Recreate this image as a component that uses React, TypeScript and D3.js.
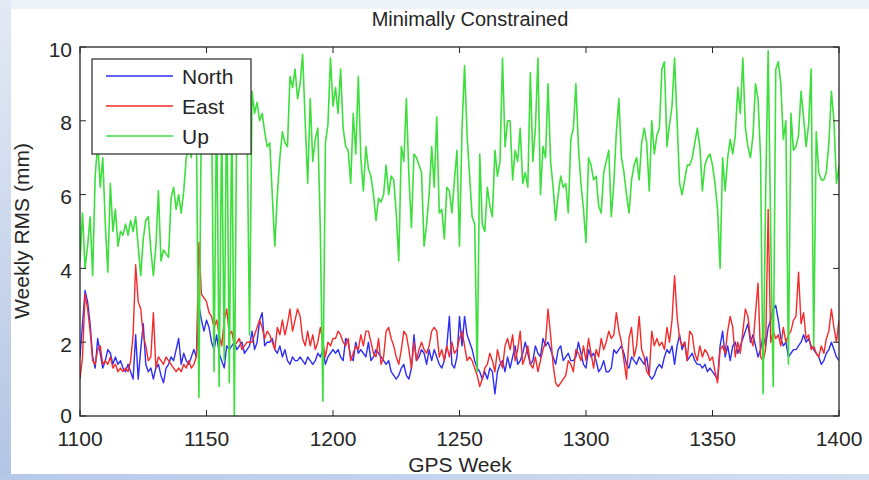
import React from 'react';
import * as d3 from 'd3';

const startWeek = 1100;

// weekly RMS (mm), weeks 1100..1400
const north = [
  1.6, 2.5, 3.4, 3.1, 2.5, 1.6, 1.3, 2.1, 1.7, 1.3,
  1.5, 1.8, 1.7, 1.4, 1.6, 1.4, 1.5, 1.3, 1.2, 1.4,
  1.2, 1.0, 2.2, 1.0, 1.8, 2.5, 1.4, 1.2, 1.3, 1.0,
  1.3, 1.4, 1.1, 0.9, 1.3, 1.4, 1.6, 1.5, 1.8, 2.1,
  1.4, 1.7, 1.5, 1.4, 1.6, 1.8, 1.6, 3.0, 2.6, 2.3,
  2.6, 2.4, 2.0, 1.8, 2.2, 1.7, 1.5, 1.3, 1.9, 1.8,
  1.9, 2.0, 1.8, 1.9, 2.0, 1.7, 1.8, 1.9, 2.3, 1.8,
  2.0, 2.6, 2.8, 1.9, 2.0, 2.0, 2.1, 1.8, 1.7, 1.9,
  1.6, 1.8, 1.5, 1.4, 1.6, 1.5, 1.5, 1.6, 1.5, 1.4,
  1.6, 1.5, 1.4, 1.5, 1.7, 1.6, 1.8, 1.4, 1.6, 1.7,
  1.8, 1.7, 1.8, 1.6, 1.5, 2.1, 2.0, 1.6, 1.5, 2.0,
  1.7, 1.8, 1.7, 1.6, 2.0, 1.5, 1.6, 1.8, 1.7, 1.6,
  1.5, 1.4, 1.5, 1.2, 1.1, 1.0, 1.1, 1.3, 1.4, 1.1,
  1.0, 1.3, 2.2, 1.5, 1.6, 1.8, 1.7, 1.4, 1.8, 1.5,
  1.8, 1.6, 1.4, 1.3, 1.5, 1.9, 2.7, 1.4, 1.3, 1.6,
  2.7, 1.9, 2.7, 2.2, 2.0, 1.8, 1.5, 1.3, 1.2, 1.0,
  1.2, 1.0, 1.3, 1.2, 0.6, 1.2, 1.4, 1.5, 1.2, 1.6,
  1.3, 1.6, 1.9, 1.4, 1.5, 1.7, 2.0, 1.7, 1.4, 1.5,
  1.9, 1.7, 1.6, 2.1, 1.9, 2.0, 1.8, 1.6, 1.4, 1.8,
  1.9, 1.5, 1.6, 1.7, 1.5, 1.5, 1.6, 2.0, 1.7, 1.4,
  1.3, 1.8, 1.6, 1.7, 1.5, 1.2, 1.3, 1.5, 1.2, 1.2,
  1.3, 1.8, 1.7, 1.8, 1.9, 1.7, 1.4, 1.3, 1.6, 1.5,
  1.4, 1.6, 1.5, 1.4, 1.6, 1.1, 1.0, 1.1, 1.3, 1.4,
  1.3, 1.6, 1.8, 1.7, 1.9, 1.4, 1.9, 2.2, 1.8, 2.0,
  1.5, 1.6, 1.7, 1.5, 1.4, 1.4, 1.3, 1.4, 1.2, 1.3,
  1.2, 1.1, 1.0, 1.9, 2.3, 1.6, 1.9, 1.5, 1.9, 2.0,
  1.7, 1.9, 2.1, 2.3, 2.5, 2.0, 2.2, 1.9, 1.6, 1.8,
  2.2, 1.9, 2.4, 2.6, 2.9, 3.0, 2.6, 2.1, 1.9, 2.0,
  1.6, 1.7, 1.8, 1.8, 1.9, 2.0, 2.2, 2.0, 2.1, 1.9,
  1.8, 1.7, 1.6, 1.4, 1.5, 1.7, 1.8, 2.0, 1.8, 1.6,
  1.5,
];

const east = [
  1.0, 1.6, 3.3, 2.9, 2.3, 1.5, 1.4, 1.8, 1.9, 1.4,
  1.5, 1.4, 1.6, 1.3, 1.4, 1.2, 1.3, 1.2, 1.3, 1.2,
  1.5, 2.2, 4.1, 3.1, 2.9, 2.2, 1.9, 1.5, 1.6, 2.8,
  1.3, 1.6, 1.5, 1.4, 1.6, 1.5, 1.4, 1.3, 1.2, 1.3,
  1.2, 1.4, 1.3, 1.5, 1.3, 1.4, 1.6, 4.7, 3.3, 3.2,
  3.1, 2.8, 2.7, 2.4, 2.6, 2.2, 1.9, 2.6, 2.9, 2.2,
  2.3, 1.9, 2.0, 2.1, 1.8, 1.9, 2.0, 2.0, 2.0, 2.2,
  2.4, 2.6, 2.4, 2.1, 2.3, 2.2, 2.0, 1.8, 2.4, 2.2,
  2.6, 2.2, 2.5, 2.9, 2.3, 2.6, 2.9, 2.7, 2.1, 1.9,
  2.3, 1.9, 2.2, 1.8, 2.0, 2.4, 2.0, 1.6, 2.0, 1.9,
  2.1, 2.1, 2.3, 2.2, 2.0, 1.9, 2.1, 1.5, 1.7, 1.9,
  1.8, 2.2, 1.9, 2.3, 2.3, 2.0, 1.7, 1.6, 2.1, 1.4,
  1.6, 2.3, 2.4, 2.1, 1.9, 1.6, 1.4, 1.8, 2.3, 2.2,
  1.8, 1.3, 2.0, 1.5, 1.8, 2.0, 1.8, 1.7, 1.9, 2.3,
  2.4, 2.3, 1.6, 1.8, 1.5, 1.9, 1.6, 2.0, 1.7, 1.8,
  2.1, 2.3, 1.9, 1.5, 1.6, 1.5, 1.3, 1.1, 0.8, 1.0,
  1.3, 1.4, 1.7, 1.5, 1.2, 1.8, 1.5, 1.3, 1.9, 2.1,
  1.8, 2.2, 1.5, 1.8, 2.3, 1.4, 1.6, 1.9, 1.4, 1.3,
  1.6, 1.2, 1.5, 1.8, 2.0, 2.9, 2.2, 1.4, 0.9, 0.8,
  0.9, 1.0, 1.1, 1.5, 1.4, 1.2, 1.8, 1.7, 1.5, 1.9,
  1.5, 2.1, 1.7, 1.3, 1.8, 1.6, 2.1, 1.8, 2.0, 2.3,
  2.1, 2.2, 2.8, 2.3, 2.0, 1.5, 1.0, 2.1, 2.4, 1.6,
  1.9, 2.7, 1.8, 1.6, 1.2, 1.1, 2.3, 1.9, 2.1, 1.9,
  2.0, 1.8, 2.4, 2.0, 2.6, 3.8, 2.7, 2.1, 1.9, 2.0,
  1.5, 2.3, 2.2, 1.7, 1.5, 1.9, 1.6, 1.8, 1.7, 1.5,
  1.6, 1.2, 0.9, 1.8, 1.9, 1.7, 2.3, 2.7, 2.4, 1.6,
  2.0, 1.7, 2.3, 2.9, 2.7, 2.1, 1.9, 2.8, 3.6, 1.6,
  1.5, 1.8, 5.6, 2.0, 2.3, 2.1, 2.2, 1.9, 2.4, 2.0,
  2.2, 2.3, 2.6, 2.7, 3.9, 2.5, 2.8, 2.1, 2.2, 1.8,
  1.9, 1.7, 1.6, 1.9, 1.7, 2.1, 2.3, 2.9, 2.4, 2.0,
  2.6,
];

const up = [
  4.2, 5.5, 4.0, 4.6, 5.4, 3.8, 6.5, 7.4, 6.2, 7.0,
  5.2, 3.9, 6.3, 5.0, 5.6, 4.6, 5.0, 4.9, 5.2, 4.9,
  5.3, 5.0, 5.4, 4.6, 3.8, 4.8, 5.3, 5.4, 4.5, 3.8,
  4.6, 6.1, 4.2, 4.5, 4.4, 4.3, 5.9, 6.2, 5.6, 6.0,
  5.5, 6.1, 7.0, 7.3, 7.0, 8.2, 7.8, 0.5, 8.6, 9.0,
  8.2, 7.6, 8.4, 1.2, 8.8, 0.8, 8.0, 1.5, 9.1, 0.9,
  8.3, 0.0, 8.7, 7.8, 8.9, 7.2, 8.1, 2.2, 8.8, 8.2,
  8.5, 8.0, 8.2, 7.7, 7.3, 7.4, 6.0, 4.6, 6.0, 7.0,
  7.7, 7.4, 7.3, 9.2, 8.9, 9.4, 8.6, 9.0, 9.8, 8.0,
  6.3, 8.6, 6.9, 7.5, 7.8, 5.0, 0.4, 7.4, 7.9, 9.7,
  8.4, 8.9, 8.2, 9.4, 7.8, 7.3, 7.2, 6.3, 8.2, 7.1,
  9.2, 7.0, 6.1, 7.3, 6.7, 6.5, 6.0, 5.3, 5.9, 5.8,
  6.0, 6.8, 6.0, 6.5, 6.4, 5.5, 4.2, 7.3, 6.9, 8.6,
  6.5, 5.1, 7.1, 7.0, 6.8, 6.6, 4.6, 5.2, 6.0, 7.3,
  6.2, 8.1, 5.5, 5.6, 4.8, 6.2, 6.1, 5.5, 6.4, 7.2,
  4.6, 7.8, 9.5, 7.6, 6.5, 5.4, 5.2, 1.2, 7.1, 5.2,
  5.0, 6.2, 5.7, 5.4, 7.2, 6.5, 6.9, 9.7, 7.3, 8.0,
  8.0, 6.4, 7.2, 6.9, 7.8, 6.3, 6.6, 6.2, 9.3, 6.9,
  7.8, 9.7, 6.0, 7.3, 7.0, 9.0, 6.9, 6.2, 5.3, 6.0,
  6.5, 6.2, 6.3, 5.5, 7.5, 7.8, 9.0, 7.3, 6.3, 5.6,
  4.7, 7.0, 6.8, 6.4, 6.5, 5.7, 5.5, 6.6, 6.9, 7.2,
  5.4, 6.3, 7.7, 8.6, 7.0, 6.6, 6.0, 5.5, 6.4, 6.8,
  7.0, 6.4, 7.4, 7.8, 7.4, 6.1, 8.0, 7.1, 7.6, 7.8,
  9.4, 9.6, 7.3, 7.9, 8.4, 9.7, 8.0, 6.3, 6.0, 6.4,
  6.8, 6.8, 7.0, 7.4, 7.8, 7.3, 6.1, 6.8, 7.0, 7.1,
  6.8, 6.3, 5.6, 4.0, 7.0, 6.1, 7.0, 7.5, 7.1, 7.6,
  8.9, 8.2, 9.7, 7.8, 7.3, 7.0, 7.6, 9.0, 8.6, 7.0,
  0.6, 6.0, 9.9, 5.0, 0.8, 9.4, 9.6, 9.0, 7.5, 8.0,
  1.4, 8.2, 7.2, 7.3, 7.6, 8.8, 8.1, 7.3, 7.9, 9.4,
  1.9, 7.7, 6.6, 6.4, 6.4, 6.6, 7.4, 8.8, 8.0, 6.3,
  6.8,
];

const seriesNames = ['North', 'East', 'Up'];
const seriesColors = ['#2e2ef5', '#f52a2a', '#3ddf3d'];
const xTicks = [1100, 1150, 1200, 1250, 1300, 1350, 1400];
const yTicks = [0, 2, 4, 6, 8, 10];

const W = 869;
const H = 480;
const plot = { left: 80, right: 839, top: 47, bottom: 416 };
const font = '"Liberation Sans", Arial, Helvetica, sans-serif';
const ink = '#262626';

export default function App() {
  const x = d3.scaleLinear().domain([1100, 1400]).range([plot.left, plot.right]);
  const y = d3.scaleLinear().domain([0, 10]).range([plot.bottom, plot.top]);

  const line = d3.line<number>()
    .x((_, i) => x(startWeek + i))
    .y(d => y(d));

  const series = [north, east, up];
  const tickLen = 6;

  return (
    <svg width={W} height={H} style={{ position: 'absolute', left: 0, top: 0 }}>
      <defs>
        <linearGradient id="leftEdge" x1="0" y1="0" x2="0" y2="1">
          <stop offset="0" stopColor="#e4eaf5" />
          <stop offset="1" stopColor="#b3c5e4" />
        </linearGradient>
        <linearGradient id="bottomBand" x1="0" y1="0" x2="1" y2="0">
          <stop offset="0" stopColor="#b6c9e8" />
          <stop offset="1" stopColor="#d2def2" />
        </linearGradient>
        <clipPath id="plotClip">
          <rect x={plot.left} y={plot.top - 2} width={plot.right - plot.left} height={plot.bottom - plot.top + 4} />
        </clipPath>
      </defs>

      <rect x={0} y={0} width={W} height={H} fill="#eef2f9" />
      <rect x={0} y={0} width={11} height={H} fill="url(#leftEdge)" />
      <rect x={0} y={474} width={W} height={H - 474} fill="url(#bottomBand)" />
      <rect x={11} y={9} width={W - 11} height={465} fill="#ffffff" />

      <g clipPath="url(#plotClip)">
        {series.map((s, i) => (
          <path key={seriesNames[i]} d={line(s) || ''} fill="none"
            stroke={seriesColors[i]} strokeWidth={i === 2 ? 1.6 : 1.4} strokeLinejoin="round" />
        ))}
      </g>

      <rect x={plot.left} y={plot.top} width={plot.right - plot.left} height={plot.bottom - plot.top}
        fill="none" stroke={ink} strokeWidth={1.3} />

      {xTicks.map(t => (
        <g key={'x' + t}>
          <line x1={x(t)} x2={x(t)} y1={plot.bottom} y2={plot.bottom - tickLen} stroke={ink} />
          <line x1={x(t)} x2={x(t)} y1={plot.top} y2={plot.top + tickLen} stroke={ink} />
          <text x={x(t)} y={plot.bottom + 30} textAnchor="middle" fontFamily={font} fontSize={21} fill={ink}>{t}</text>
        </g>
      ))}
      {yTicks.map(t => (
        <g key={'y' + t}>
          <line x1={plot.left} x2={plot.left + tickLen} y1={y(t)} y2={y(t)} stroke={ink} />
          <line x1={plot.right} x2={plot.right - tickLen} y1={y(t)} y2={y(t)} stroke={ink} />
          <text x={72} y={y(t) + (t === 0 ? 7 : 9.5)} textAnchor="end" fontFamily={font} fontSize={21} fill={ink}>{t}</text>
        </g>
      ))}

      <text x={470} y={26} textAnchor="middle" fontFamily={font} fontSize={20} fill={ink}>Minimally Constrained</text>
      <text x={460} y={472} textAnchor="middle" fontFamily={font} fontSize={21} fill={ink}>GPS Week</text>
      <text transform="translate(29,231) rotate(-90)" textAnchor="middle" fontFamily={font} fontSize={21} fill={ink}>Weekly RMS (mm)</text>

      <g>
        <rect x={92} y={59} width={159} height={95} fill="#ffffff" stroke={ink} strokeWidth={1.2} />
        {seriesNames.map((name, i) => {
          const ly = 76 + i * 30;
          return (
            <g key={'lg' + name}>
              <line x1={106} x2={173} y1={ly} y2={ly} stroke={seriesColors[i]} strokeWidth={1.5} />
              <text x={182} y={ly + 7.5} fontFamily={font} fontSize={21} fill={ink}>{name}</text>
            </g>
          );
        })}
      </g>
    </svg>
  );
}
